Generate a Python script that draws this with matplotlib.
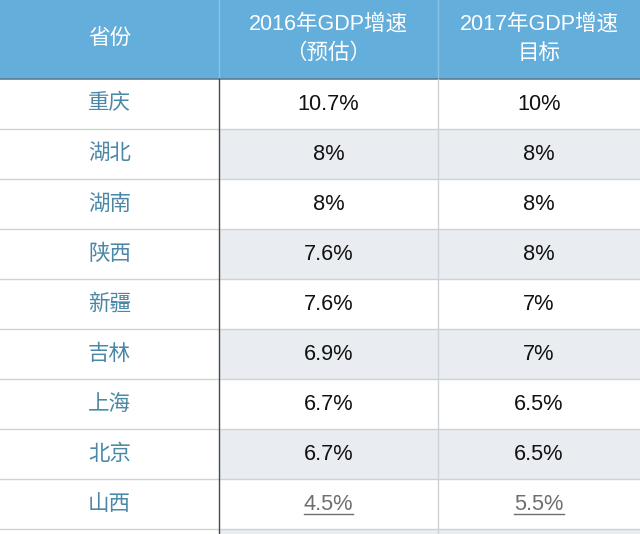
import matplotlib
matplotlib.use("Agg")
import matplotlib.pyplot as plt
from matplotlib.patches import Rectangle

plt.rcParams['font.family'] = ['Liberation Sans', 'Noto Sans CJK SC', 'DejaVu Sans']

# table data
header = ['省份', '2016年GDP增速\n（预估）', '2017年GDP增速\n目标']
provinces = ['重庆', '湖北', '湖南', '陕西', '新疆', '吉林', '上海', '北京', '山西']
gdp_2016 = ['10.7%', '8%', '8%', '7.6%', '7.6%', '6.9%', '6.7%', '6.7%', '4.5%']
gdp_2017 = ['10%', '8%', '8%', '8%', '7%', '7%', '6.5%', '6.5%', '5.5%']

# layout (pixels)
W, H = 640, 534
col_edges = [0, 219, 438, 640]
header_h = 79
row_h = 50

head_blue = '#64AEDB'
stripe = '#E9ECF0'
grid_c = '#CDD2D6'
name_c = '#4B88A6'

fig = plt.figure(figsize=(6.4, 5.34), dpi=100)
ax = fig.add_axes([0, 0, 1, 1])
ax.set_xlim(0, W)
ax.set_ylim(H, 0)
ax.axis('off')

# header
ax.add_patch(Rectangle((0, 0), W, header_h, color=head_blue, lw=0))
for x in col_edges[1:-1]:
    ax.plot([x, x], [0, header_h], color='#8CC3E4', lw=1)
ax.plot([0, W], [header_h, header_h], color='#5A7F92', lw=1.2)
for i, t in enumerate(header):
    xc = (col_edges[i] + col_edges[i + 1]) / 2
    ax.text(xc, header_h / 2 - 1, t, ha='center', va='center', color='white',
            fontsize=15.5, linespacing=1.5)

# rows (one extra striped row peeks in at the bottom)
n = len(provinces)
for r in range(n + 1):
    y0 = header_h + r * row_h
    if r % 2 == 1:
        ax.add_patch(Rectangle((col_edges[1], y0), W - col_edges[1], row_h,
                               color=stripe, lw=0))
    ax.plot([0, W], [y0 + row_h, y0 + row_h], color=grid_c, lw=1)

ax.plot([col_edges[1], col_edges[1]], [header_h, H], color='#4A4A4A', lw=1)
ax.plot([col_edges[2], col_edges[2]], [header_h, H], color=grid_c, lw=1)

underline = []
for r in range(n):
    yc = header_h + r * row_h + row_h / 2
    last = r == n - 1
    vc = '#6E6E6E' if last else '#111111'
    ax.text((col_edges[0] + col_edges[1]) / 2, yc, provinces[r], ha='center',
            va='center', color=name_c, fontsize=15.5)
    t1 = ax.text((col_edges[1] + col_edges[2]) / 2, yc, gdp_2016[r], ha='center',
                 va='center', color=vc, fontsize=15.7)
    t2 = ax.text((col_edges[2] + col_edges[3]) / 2, yc, gdp_2017[r], ha='center',
                 va='center', color=vc, fontsize=15.7)
    if last:
        underline += [t1, t2]

# underline the last row's values
fig.canvas.draw()
inv = ax.transData.inverted()
for t in underline:
    bb = t.get_window_extent()
    (x0, _), (x1, _) = inv.transform([[bb.x0, bb.y0], [bb.x1, bb.y0]])
    yl = header_h + (n - 1) * row_h + row_h / 2 + 10
    ax.plot([x0, x1], [yl, yl], color='#6E6E6E', lw=1)

fig.savefig('out.png', dpi=100)
